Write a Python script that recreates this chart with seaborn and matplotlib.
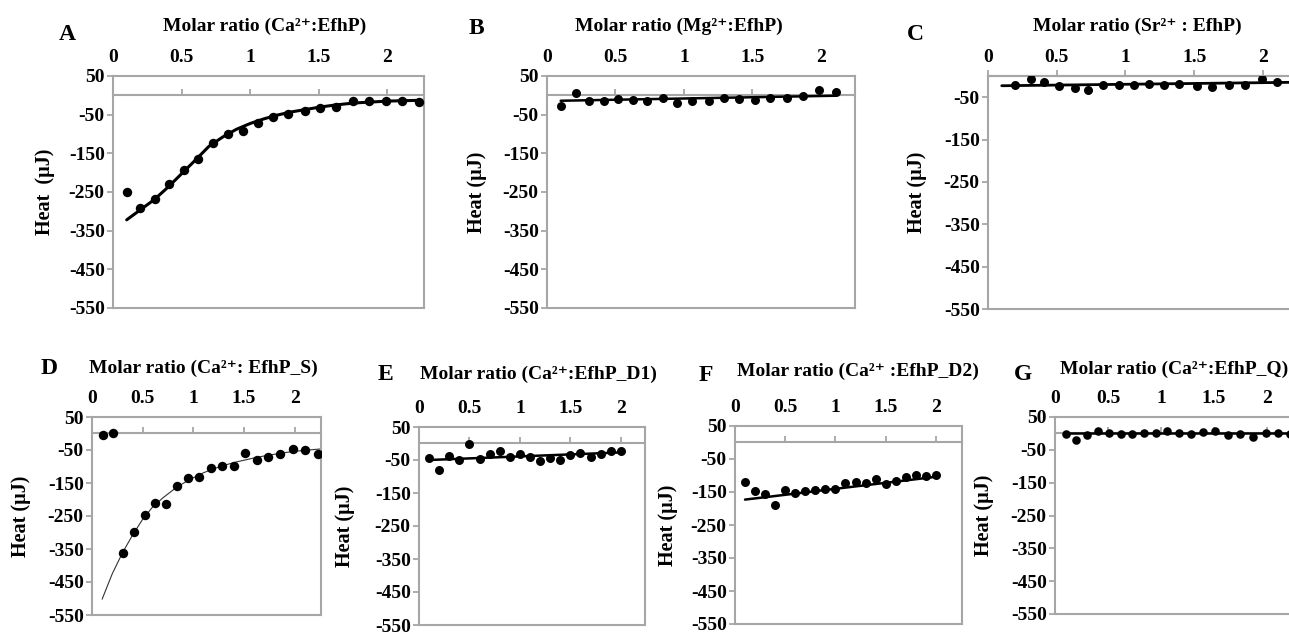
import matplotlib
matplotlib.use("Agg")
import matplotlib.pyplot as plt
import seaborn as sns

# ---------------- data ----------------
A_x = [0.10, 0.20, 0.31, 0.41, 0.52, 0.62, 0.73, 0.84, 0.95, 1.06, 1.17, 1.28, 1.40, 1.51, 1.63, 1.75, 1.87, 1.99, 2.11, 2.23]
A_y = [-250, -291, -268, -230, -193, -164, -123, -99, -93, -71, -57, -49, -41, -32, -31, -15, -15, -14, -15, -16]
A_fit_x = [0.10, 0.2, 0.3, 0.4, 0.5, 0.6, 0.7, 0.8, 0.9, 1.0, 1.1, 1.2, 1.3, 1.4, 1.5, 1.6, 1.7, 1.8, 1.9, 2.0, 2.1, 2.23]
A_fit_y = [-322, -296, -270, -238, -203, -168, -132, -108, -88, -73, -61, -51, -43, -37, -31, -26, -22, -19, -17, -15, -14, -13]

B_x = [0.10, 0.21, 0.31, 0.42, 0.52, 0.63, 0.73, 0.85, 0.95, 1.06, 1.18, 1.29, 1.40, 1.52, 1.63, 1.75, 1.87, 1.99, 2.11]
B_y = [-28, 6, -15, -14, -10, -11, -15, -8, -21, -14, -15, -7, -9, -12, -7, -6, -3, 13, 8]
B_fit_x = [0.10, 2.11]
B_fit_y = [-14, -1]

C_x = [0.20, 0.31, 0.41, 0.52, 0.63, 0.73, 0.84, 0.95, 1.06, 1.17, 1.28, 1.39, 1.52, 1.63, 1.75, 1.87, 1.99, 2.10]
C_y = [-21, -7, -13, -24, -29, -33, -21, -22, -21, -20, -21, -20, -24, -27, -21, -22, -8, -13]
C_fit_x = [0.10, 2.19]
C_fit_y = [-23, -15]

D_x = [0.11, 0.21, 0.31, 0.41, 0.52, 0.62, 0.73, 0.84, 0.95, 1.06, 1.17, 1.28, 1.40, 1.51, 1.63, 1.74, 1.86, 1.98, 2.10, 2.23]
D_y = [-6, 1, -363, -297, -248, -212, -213, -159, -136, -131, -105, -99, -98, -60, -81, -71, -62, -48, -49, -62]
D_fit_x = [0.1, 0.2, 0.3, 0.4, 0.5, 0.6, 0.7, 0.8, 0.9, 1.0, 1.1, 1.2, 1.3, 1.4, 1.5, 1.6, 1.7, 1.8, 1.9, 2.0, 2.1, 2.25]
D_fit_y = [-502, -425, -362, -308, -260, -222, -195, -171, -151, -134, -119, -107, -97, -88, -81, -74, -68, -63, -58, -54, -51, -47]

E_x = [0.1, 0.2, 0.3, 0.4, 0.5, 0.6, 0.7, 0.8, 0.9, 1.0, 1.1, 1.2, 1.3, 1.4, 1.5, 1.6, 1.7, 1.8, 1.9, 2.0]
E_y = [-43, -79, -38, -51, -3, -47, -33, -23, -41, -33, -41, -52, -44, -50, -36, -29, -42, -31, -22, -22]
E_fit_x = [0.1, 2.0]
E_fit_y = [-50, -27]

F_x = [0.1, 0.2, 0.3, 0.4, 0.5, 0.6, 0.7, 0.8, 0.9, 1.0, 1.1, 1.2, 1.3, 1.4, 1.5, 1.6, 1.7, 1.8, 1.9, 2.0]
F_y = [-120, -147, -156, -189, -145, -154, -147, -143, -141, -142, -122, -121, -122, -110, -127, -118, -106, -98, -101, -100]
F_fit_x = [0.1, 2.0]
F_fit_y = [-173, -104]

G_x = [0.10, 0.20, 0.30, 0.41, 0.51, 0.62, 0.73, 0.84, 0.95, 1.06, 1.17, 1.28, 1.40, 1.51, 1.63, 1.75, 1.87, 1.99, 2.11, 2.22]
G_y = [-2, -20, -6, 7, 1, -3, -2, 0, 2, 7, 1, -2, 5, 8, -6, -3, -10, 2, 1, -2]
G_fit_x = [0.10, 2.22]
G_fit_y = [0, 0]

x_ticks = [0, 0.5, 1, 1.5, 2]
x_tick_labels = ["0", "0.5", "1", "1.5", "2"]
y_ticks_full = [50, -50, -150, -250, -350, -450, -550]
y_ticks_c = [-50, -150, -250, -350, -450, -550]

letters = ["A", "B", "C", "D", "E", "F", "G"]
titles = [
    "Molar ratio (Ca²⁺:EfhP)",
    "Molar ratio (Mg²⁺:EfhP)",
    "Molar ratio (Sr²⁺ : EfhP)",
    "Molar ratio (Ca²⁺: EfhP_S)",
    "Molar ratio (Ca²⁺:EfhP_D1)",
    "Molar ratio (Ca²⁺ :EfhP_D2)",
    "Molar ratio (Ca²⁺:EfhP_Q)",
]
ylabels = ["Heat  (µJ)", "Heat (µJ)", "Heat (µJ)", "Heat (µJ)", "Heat (µJ)", "Heat (µJ)", "Heat (µJ)"]

# ---------------- style ----------------
sns.set_theme(style="white")
plt.rcParams["font.family"] = ["Liberation Serif", "DejaVu Serif"]
plt.rcParams["font.weight"] = "bold"
plt.rcParams["axes.unicode_minus"] = False

W, H = 1289, 633
GREY = "#a6a6a6"
fig = plt.figure(figsize=(W / 100, H / 100), dpi=100)
fig.patch.set_facecolor("white")

# layout (pixels): left, top, right, bottom
boxes = [
    (113, 76, 424, 308),
    (547, 76, 855, 308),
    (988, 76, 1289, 309),
    (92, 417, 321, 615),
    (419, 427, 645, 625),
    (735, 426, 962, 624),
    (1055, 417, 1289, 614),
]
xmaxs = [2.27, 2.25, 2.19, 2.26, 2.24, 2.26, 2.21]
ylims = [(-550, 50), (-550, 50), (-550, 0), (-550, 50), (-550, 50), (-550, 50), (-550, 50)]
ylab_off = [68, 70, 71, 71, 74, 67, 71]
letter_pos = [(67, 35), (476, 28), (915, 35), (49, 369), (385, 375), (706, 376), (1023, 374)]
title_pos = [(265, 26), (679, 26), (1137, 26), (203, 368), (538, 374), (858, 371), (1174, 369)]
line_w = [2.2, 1.8, 2.0, 0.8, 1.8, 1.8, 1.8]
line_c = ["black", "black", "black", "#333333", "black", "black", "black"]
msize = [46, 42, 42, 46, 42, 42, 38]

series = [
    (A_x, A_y, A_fit_x, A_fit_y),
    (B_x, B_y, B_fit_x, B_fit_y),
    (C_x, C_y, C_fit_x, C_fit_y),
    (D_x, D_y, D_fit_x, D_fit_y),
    (E_x, E_y, E_fit_x, E_fit_y),
    (F_x, F_y, F_fit_x, F_fit_y),
    (G_x, G_y, G_fit_x, G_fit_y),
]

for i in range(7):
    L, T, R, B = boxes[i]
    ax = fig.add_axes([L / W, 1 - B / H, (R - L) / W, (B - T) / H])
    xs, ys, fx, fy = series[i]
    sns.lineplot(x=fx, y=fy, ax=ax, color=line_c[i], linewidth=line_w[i],
                 sort=False, estimator=None, zorder=2)
    sns.scatterplot(x=xs, y=ys, ax=ax, color="black", s=msize[i], linewidth=0, zorder=3)
    ax.set_xlim(0, xmaxs[i])
    ax.set_ylim(*ylims[i])
    ax.set_xlabel("")

    # frame
    for sp in ax.spines.values():
        sp.set_color(GREY)
        sp.set_linewidth(1.5)
    if i in (2, 6):
        ax.spines["right"].set_visible(False)

    # x tick labels on top, no marks
    ax.xaxis.tick_top()
    ax.set_xticks(x_ticks)
    ax.set_xticklabels(x_tick_labels)
    ax.tick_params(axis="x", length=0, pad=7, labelsize=14, labelcolor="black")

    # y ticks
    yt = y_ticks_c if i == 2 else y_ticks_full
    ax.set_yticks(yt)
    ax.set_yticklabels([str(v) for v in yt])
    ax.tick_params(axis="y", left=True, direction="out", length=4, width=1.3,
                   color=GREY, pad=2, labelsize=14, labelcolor="black")

    # x axis line at y = 0 with small upward tick marks
    y0, y1 = ylims[i]
    frac = (0 - y0) / (y1 - y0)
    sec = ax.secondary_xaxis(frac)
    sec.set_xticks(x_ticks)
    sec.tick_params(direction="out", length=4, width=1.3, color=GREY,
                    labeltop=False, labelbottom=False)
    for sp in sec.spines.values():
        sp.set_color(GREY)
        sp.set_linewidth(1.5)

    # y label
    ax.set_ylabel(ylabels[i], fontsize=14.5, fontweight="bold", color="black", va="center")
    ax.yaxis.set_label_coords(-ylab_off[i] / (R - L), 0.5)

    # panel letter and title
    lx, ly = letter_pos[i]
    fig.text(lx / W, 1 - ly / H, letters[i], fontsize=17, fontweight="bold",
             ha="center", va="center", color="black")
    tx, ty = title_pos[i]
    fig.text(tx / W, 1 - ty / H, titles[i], fontsize=14, fontweight="bold",
             ha="center", va="center", color="black")

fig.savefig("out.png", dpi=100, facecolor="white")
